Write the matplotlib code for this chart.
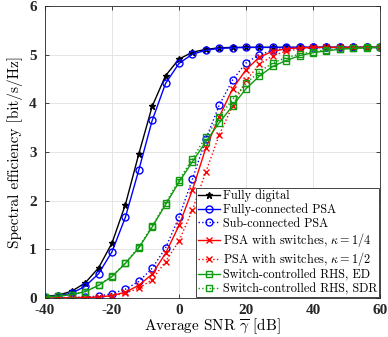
import numpy as np
import matplotlib
matplotlib.use('Agg')
import matplotlib.pyplot as plt

plt.rcParams['mathtext.fontset'] = 'cm'

# SNR axis [dB]
snr = list(range(-40, 61, 4))

fully_digital = [0.03, 0.06, 0.14, 0.31, 0.62, 1.13, 1.92, 2.96, 3.94, 4.57, 4.91, 5.05, 5.11,
                 5.14, 5.15, 5.15, 5.15, 5.15, 5.15, 5.15, 5.15, 5.15, 5.15, 5.15, 5.15, 5.15]
fully_psa = [0.02, 0.04, 0.10, 0.24, 0.50, 0.95, 1.66, 2.63, 3.65, 4.41, 4.82, 5.01, 5.09,
             5.13, 5.14, 5.15, 5.15, 5.15, 5.15, 5.15, 5.15, 5.15, 5.15, 5.15, 5.15, 5.15]
sub_psa = [0.00, 0.01, 0.01, 0.02, 0.04, 0.09, 0.18, 0.34, 0.61, 1.03, 1.66, 2.44, 3.26,
           3.96, 4.48, 4.83, 5.00, 5.09, 5.13, 5.15, 5.15, 5.15, 5.15, 5.15, 5.15, 5.15]
sw_quarter = [0.00, 0.00, 0.01, 0.01, 0.02, 0.05, 0.12, 0.26, 0.49, 0.92, 1.49, 2.22, 3.08,
              3.72, 4.30, 4.69, 4.95, 5.07, 5.12, 5.14, 5.15, 5.15, 5.15, 5.15, 5.15, 5.15]
sw_half = [0.00, 0.00, 0.00, 0.01, 0.02, 0.04, 0.10, 0.20, 0.38, 0.75, 1.17, 1.81, 2.59,
           3.35, 3.95, 4.47, 4.80, 4.98, 5.07, 5.12, 5.14, 5.15, 5.15, 5.15, 5.15, 5.15]
rhs_ed = [0.02, 0.04, 0.07, 0.13, 0.26, 0.44, 0.71, 1.03, 1.46, 1.92, 2.38, 2.80, 3.21,
          3.60, 3.95, 4.30, 4.56, 4.76, 4.88, 4.98, 5.04, 5.08, 5.11, 5.13, 5.14, 5.15]
rhs_sdr = [0.02, 0.04, 0.07, 0.13, 0.26, 0.45, 0.72, 1.05, 1.48, 1.95, 2.42, 2.86, 3.31,
           3.72, 4.08, 4.41, 4.65, 4.83, 4.94, 5.01, 5.06, 5.10, 5.12, 5.14, 5.15, 5.15]

xticks = [-40, -20, 0, 20, 40, 60]
yticks = [0, 1, 2, 3, 4, 5, 6]

green = '#109a10'

fig = plt.figure(figsize=(3.88, 3.37), dpi=100)
ax = fig.add_axes([45/388, 1 - 298/337, 335/388, 292/337])

lw = 1.0
ax.plot(snr, fully_digital, '-*', color='k', lw=lw, ms=5, label='Fully digital')
ax.plot(snr, fully_psa, '-o', color='b', lw=lw, ms=5, mfc='none', label='Fully-connected PSA')
ax.plot(snr, sub_psa, ':o', color='b', lw=lw, ms=5, mfc='none', label='Sub-connected PSA')
ax.plot(snr, sw_quarter, '-x', color='r', lw=lw, ms=4.5, label=r'PSA with switches, $\kappa=1/4$')
ax.plot(snr, sw_half, ':x', color='r', lw=lw, ms=4.5, label=r'PSA with switches, $\kappa=1/2$')
ax.plot(snr, rhs_ed, '-s', color=green, lw=lw, ms=5, mfc='none', label='Switch-controlled RHS, ED')
ax.plot(snr, rhs_sdr, ':s', color=green, lw=lw, ms=5, mfc='none', label='Switch-controlled RHS, SDR')

ax.set_xlim(-40, 60)
ax.set_ylim(0, 6)
tick_font = dict(fontfamily='Liberation Serif', fontweight='bold', fontsize=11)
ax.set_xticks(xticks, [str(t) for t in xticks], **tick_font)
ax.set_yticks(yticks, [str(t) for t in yticks], **tick_font)
ax.grid(True, color='#e0e0e0', lw=0.6)
ax.tick_params(direction='in', length=3, width=0.6, colors='#262626', top=True, right=True)
ax.tick_params(axis='y', pad=6)
ax.tick_params(axis='x', pad=4)
for s in ax.spines.values():
    s.set_color('#262626')
    s.set_linewidth(0.6)

ax.set_xlabel(r'Average SNR $\overline{\gamma}$ [dB]', fontfamily='cmr10', fontsize=11, labelpad=0)
ax.set_ylabel('Spectral efficiency [bit/s/Hz]', fontfamily='cmr10', fontsize=11, labelpad=4)

leg = ax.legend(loc='lower right', prop={'family': 'cmr10', 'size': 8.8}, fancybox=False,
                edgecolor='#262626', framealpha=1, borderpad=0.15, labelspacing=0.1,
                handlelength=1.8, handletextpad=0.2, borderaxespad=0.1)
leg.get_frame().set_linewidth(0.6)

fig.savefig('out.png', dpi=100)
